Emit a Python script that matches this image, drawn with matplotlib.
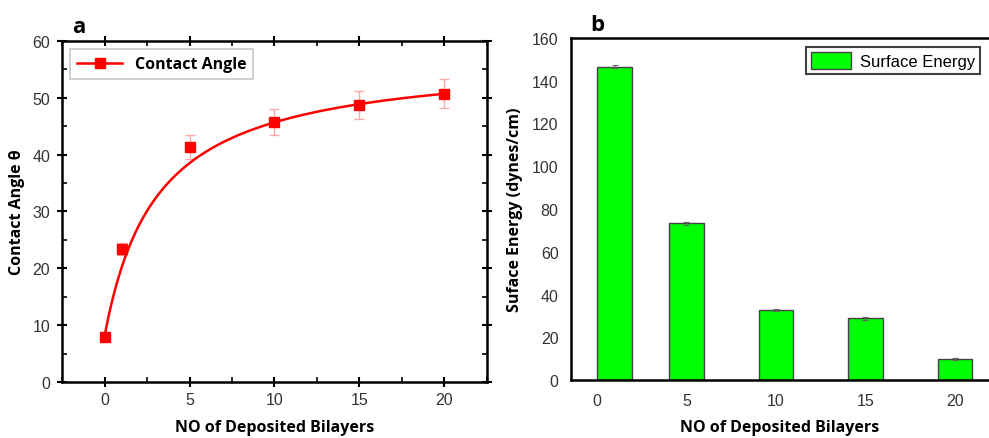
import numpy as np
import matplotlib
matplotlib.use("Agg")
import matplotlib.pyplot as plt
from matplotlib.ticker import MultipleLocator

# ---- data panel a ----
bilayers_a = [0, 1, 5, 10, 15, 20]
contact_angle = [8.0, 23.4, 41.4, 45.7, 48.7, 50.7]
contact_err = [0.3, 1.05, 2.1, 2.3, 2.5, 2.55]
# hyperbolic fit curve y = y0 + A*x/(K+x), parameters
fit_y0 = 8.0
fit_A = 49.3
fit_K = 3.08

# ---- data panel b ----
bilayers_b = [1, 5, 10, 15, 20]
surface_energy = [146.6, 73.3, 32.6, 29.0, 10.0]
surface_err = [0.6, 0.7, 0.5, 0.7, 0.5]
xticks_b = [0, 5, 10, 15, 20]

xa = np.array(bilayers_a, float)
ya = np.array(contact_angle, float)
xfit = np.linspace(0, 20, 300)
yfit = fit_y0 + fit_A * xfit / (fit_K + xfit)

fig = plt.figure(figsize=(9.89, 4.39), dpi=100)
labfont = dict(family="Open Sans", weight="bold", size=11.5)

# ---------- panel a ----------
ax = fig.add_axes([0.0627, 0.1276, 0.4297, 0.7767])
ax.errorbar(xa, ya, yerr=contact_err, fmt="none", ecolor="#ffaaaa",
            elinewidth=1.0, capsize=3.5, capthick=1.0, zorder=2)
ax.plot(xfit, yfit, color="#ff0000", lw=1.8, zorder=3)
ax.plot(xa, ya, "s", color="#ff0000", ms=6.5, zorder=4)
ax.plot([], [], "-s", color="#ff0000", lw=1.8, ms=6.5, label="Contact Angle")
ax.set_xlim(-2.5, 22.5)
ax.set_ylim(0, 60)
ax.xaxis.set_major_locator(MultipleLocator(5))
ax.xaxis.set_minor_locator(MultipleLocator(2.5))
ax.yaxis.set_major_locator(MultipleLocator(10))
ax.yaxis.set_minor_locator(MultipleLocator(5))
ax.tick_params(which="major", direction="inout", length=7, width=1.5,
               top=True, right=True, labelsize=11.5, labelcolor="#333333")
ax.tick_params(axis="y", which="major", pad=5)
ax.tick_params(which="minor", direction="in", length=3.5, width=1.2,
               top=True, right=True)
for s in ax.spines.values():
    s.set_linewidth(1.8)
for lbl in ax.get_xticklabels() + ax.get_yticklabels():
    lbl.set_family("Liberation Sans")
ax.set_xlabel("NO of Deposited Bilayers", fontdict=labfont, labelpad=9)
ax.set_ylabel("Contact Angle θ", fontdict=labfont, labelpad=5)
leg = ax.legend(loc="upper left", prop=dict(family="Open Sans", weight="bold", size=11.5),
                frameon=True, fancybox=False, edgecolor="#bbbbbb",
                borderaxespad=0.5, handlelength=2.8, borderpad=0.45)
leg.get_frame().set_linewidth(1.2)
fig.text(0.0799, 0.938, "a", family="Open Sans", weight="bold", size=16,
         ha="center", va="center")

# ---------- panel b ----------
bx = fig.add_axes([0.5774, 0.1321, 0.4226, 0.7791])
bx.bar(bilayers_b, surface_energy, width=1.95, color="#00ff00",
       edgecolor="#444444", linewidth=1.0, label="Surface Energy", zorder=2)
bx.errorbar(bilayers_b, surface_energy, yerr=surface_err, fmt="none",
            ecolor="#666666", elinewidth=0.8, capsize=2.5, capthick=0.8, zorder=3)
bx.set_xlim(-1.45, 21.9)
bx.set_ylim(0, 160)
bx.set_xticks(xticks_b)
bx.yaxis.set_major_locator(MultipleLocator(20))
bx.tick_params(length=0, labelsize=11.5, labelcolor="#333333", pad=9)
for lbl in bx.get_xticklabels() + bx.get_yticklabels():
    lbl.set_family("Liberation Sans")
bx.spines["right"].set_visible(False)
for s in ["left", "top", "bottom"]:
    bx.spines[s].set_linewidth(1.8)
bx.set_xlabel("NO of Deposited Bilayers", fontdict=labfont, labelpad=8)
bx.set_ylabel("Suface Energy (dynes/cm)", fontdict=labfont, labelpad=6)
leg2 = bx.legend(loc="upper right", prop=dict(family="Liberation Sans", size=12),
                 frameon=True, fancybox=False, edgecolor="#111111",
                 borderaxespad=0.55, handlelength=2.4, handleheight=1.2,
                 borderpad=0.3, handletextpad=0.5)
leg2.get_frame().set_linewidth(1.5)
fig.text(0.6036, 0.943, "b", family="Open Sans", weight="bold", size=16,
         ha="center", va="center")

fig.savefig("out.png", dpi=100)
